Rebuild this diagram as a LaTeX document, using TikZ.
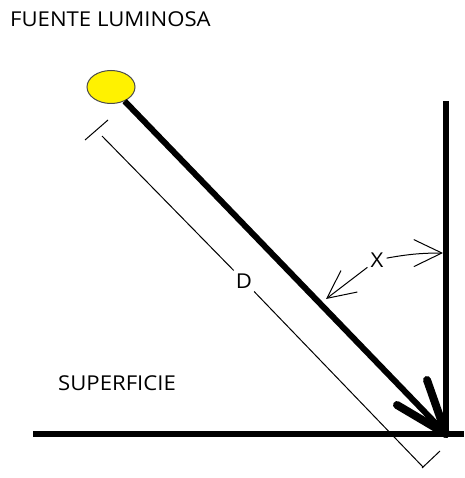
\documentclass[tikz,border=0pt]{standalone}
\usepackage{fontspec}
\setmainfont[FakeStretch=1.08]{Open Sans}
\usetikzlibrary{shapes.geometric,arrows.meta}
\begin{document}
\begin{tikzpicture}[x=1pt,y=-1pt,font=\fontsize{20.5}{24}\selectfont,
  lbl/.style={inner sep=0pt},
  thick line/.style={line width=6pt},
  barb/.style={line width=8pt,line cap=round},
  thin line/.style={line width=1pt},
  angarrow/.style={line width=1pt,-{Straight Barb[length=28pt,width=27pt]}}]
\useasboundingbox (0,0) rectangle (464,478);
\node[lbl,anchor=base west] (titulo) at (10,27) {FUENTE LUMINOSA};
\node[lbl,anchor=base west] (superficie) at (58,390) {SUPERFICIE};
% fuente y rayo
\node[ellipse,draw=black!70,fill=yellow,line width=1pt,minimum width=48pt,minimum height=33pt,inner sep=0pt] (fuente) at (111,87) {};
\coordinate (tip) at (446,434);
\draw[thick line] (fuente) -- (tip);
\foreach \bx/\by in {427/380,397/405}{\draw[barb] (tip) -- (\bx,\by);}
% pared y suelo
\coordinate (vtop) at (446,101); \coordinate (vbot) at (446,437);
\coordinate (hl) at (33,434); \coordinate (hr) at (464,434);
\draw[thick line] (vtop) -- (vbot);
\draw[thick line] (hl) -- (hr);
% cota D
\coordinate (dA) at (102,136); \coordinate (dB) at (423,467);
\node[lbl,inner sep=3pt] (dlbl) at (244,281) {D};
\draw[thin line] (dA) -- (dlbl) -- (dB);
\draw[thin line] (85,140) -- (108,120);
\draw[thin line] (422,468) -- (440,451);
% angulo X
\node[lbl,inner sep=3pt] (xlbl) at (377,260) {X};
\coordinate (angA) at (326,299); \coordinate (angB) at (443,253);
\draw[angarrow] (xlbl) -- (angA);
\draw[angarrow] (xlbl) to[bend left=5] (angB);
\end{tikzpicture}
\end{document}
